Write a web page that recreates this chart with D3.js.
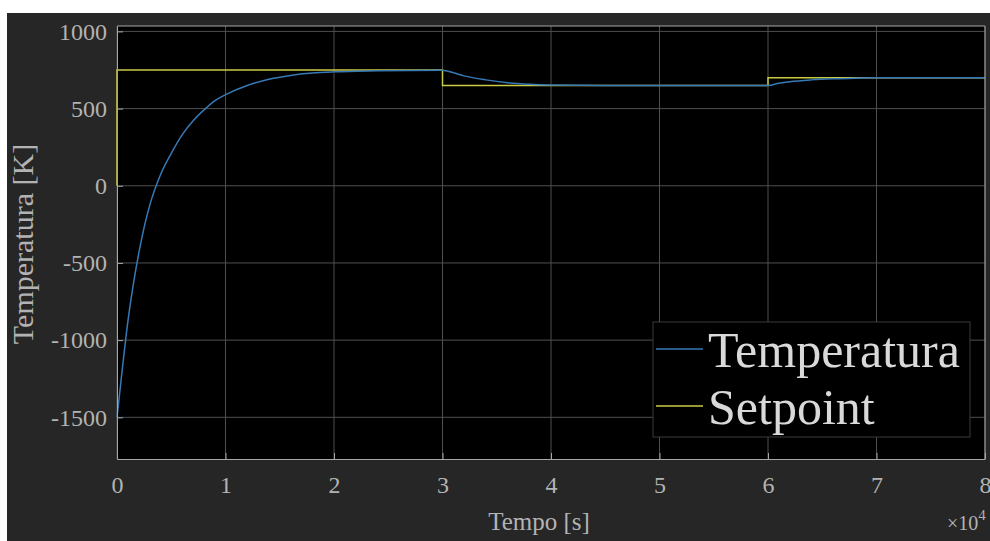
<!DOCTYPE html>
<html>
<head>
<meta charset="utf-8">
<script src="https://cdn.jsdelivr.net/npm/d3@7"></script>
<style>
  body { margin: 0; background: #fff; }
  svg { display: block; }
  text { font-family: "Liberation Serif", "Times New Roman", Times, "DejaVu Serif", serif; }
</style>
</head>
<body>
<svg id="chart" width="990" height="541"></svg>
<script>
// time in seconds, temperature in K
var tempoTemp = [0, 500, 1000, 1500, 2000, 2500, 3000, 4000, 5000, 6000, 7000, 8000, 9000, 10000,
  12000, 14000, 16000, 18000, 20000, 24000, 30000, 31000, 32000, 34000, 36000, 38000, 40000, 45000,
  60000, 61000, 62000, 64000, 66000, 68000, 70000, 80000];
var temperatura = [-1500, -1180, -880, -640, -440, -270, -130, 70, 210, 330, 420, 490, 550, 590,
  650, 690, 715, 730, 738, 745, 749, 732, 712, 686, 668, 658, 653, 650,
  650, 664, 674, 686, 693, 697, 699, 700];
var tempoSet = [0, 0, 30000, 30000, 60000, 60000, 80000];
var setpoint = [0, 750, 750, 650, 650, 700, 700];
var xTicks = [0, 10000, 20000, 30000, 40000, 50000, 60000, 70000, 80000];
var yTicks = [-1500, -1000, -500, 0, 500, 1000];
var legendNames = ["Temperatura", "Setpoint"];
var colors = ["#3679b6", "#cacb45"];

var svg = d3.select("svg#chart"),
    margin = {top: 26, right: 5, bottom: 82, left: 117},
    width = +svg.attr("width") - margin.left - margin.right,
    height = +svg.attr("height") - margin.top - margin.bottom;

// figure background (white strip left/top like the screenshot)
svg.append("rect").attr("x", 7).attr("y", 13).attr("width", 990).attr("height", 541).attr("fill", "#262626");

var g = svg.append("g").attr("transform", "translate(" + margin.left + "," + margin.top + ")");

var x = d3.scaleLinear().domain([0, 80000]).range([0, width]);
var y = d3.scaleLinear().domain([-1770, 1035]).range([height, 0]);

g.append("rect").attr("width", width).attr("height", height).attr("fill", "#000");

// grid
g.append("g").selectAll("line").data(xTicks).enter().append("line")
    .attr("x1", function(d) { return x(d); }).attr("x2", function(d) { return x(d); })
    .attr("y1", 0).attr("y2", height)
    .attr("stroke", "#4f4f4f").attr("stroke-width", 1);
g.append("g").selectAll("line").data(yTicks).enter().append("line")
    .attr("x1", 0).attr("x2", width)
    .attr("y1", function(d) { return y(d); }).attr("y2", function(d) { return y(d); })
    .attr("stroke", "#4f4f4f").attr("stroke-width", 1);

var line = d3.line()
    .x(function(d) { return x(d[0]); })
    .y(function(d) { return y(d[1]); });

g.append("path")
    .datum(d3.zip(tempoSet, setpoint))
    .attr("d", line).attr("fill", "none")
    .attr("stroke", colors[1]).attr("stroke-width", 1.5);

g.append("path")
    .datum(d3.zip(tempoTemp, temperatura))
    .attr("d", line.curve(d3.curveMonotoneX)).attr("fill", "none")
    .attr("stroke", colors[0]).attr("stroke-width", 1.5);

// axes (inward ticks)
var xAxis = g.append("g")
    .attr("transform", "translate(0," + height + ")")
    .call(d3.axisBottom(x).tickValues(xTicks).tickSizeInner(-6).tickSizeOuter(0).tickPadding(17)
      .tickFormat(function(d) { return d / 10000; }));
var yAxis = g.append("g")
    .call(d3.axisLeft(y).tickValues(yTicks).tickSizeInner(-6).tickSizeOuter(0).tickPadding(10)
      .tickFormat(function(d) { return d < 0 ? "-" + Math.abs(d) : d; }));

[xAxis, yAxis].forEach(function(a) {
  a.attr("font-family", null).attr("font-size", null);
  a.select(".domain").attr("stroke", "#a6a6a6");
  a.selectAll(".tick line").attr("stroke", "#a6a6a6");
  a.selectAll(".tick text").attr("fill", "#b3b3b3")
    .attr("font-size", "24px");
});

// top and right frame
g.append("line").attr("x1", 0).attr("x2", width).attr("y1", 0).attr("y2", 0).attr("stroke", "#a6a6a6");
g.append("line").attr("x1", width).attr("x2", width).attr("y1", 0).attr("y2", height).attr("stroke", "#a6a6a6");

// labels
svg.append("text")
    .attr("x", 539).attr("y", 530)
    .attr("text-anchor", "middle").attr("fill", "#b3b3b3")
    .attr("font-size", "25px")
    .text("Tempo [s]");

svg.append("text")
    .attr("transform", "translate(33,244) rotate(-90)")
    .attr("text-anchor", "middle").attr("fill", "#b3b3b3")
    .attr("font-size", "30px")
    .text("Temperatura [K]");

var exp = svg.append("text")
    .attr("x", 947).attr("y", 530).attr("fill", "#b3b3b3")
    .attr("font-size", "20px");
exp.append("tspan").text("\u00d710");
exp.append("tspan").attr("dy", -10).attr("font-size", "15px").text("4");

// legend
var legend = svg.append("g").attr("transform", "translate(653,322)");
legend.append("rect").attr("width", 317).attr("height", 115)
    .attr("fill", "#000").attr("stroke", "#3a3a3a");
var item = legend.selectAll(".item").data(legendNames).enter().append("g")
    .attr("class", "item")
    .attr("transform", function(d, i) { return "translate(0," + (27 + i * 57) + ")"; });
item.append("line").attr("x1", 3).attr("x2", 50)
    .attr("stroke", function(d, i) { return colors[i]; }).attr("stroke-width", 1.5);
item.append("text").attr("x", 55).attr("y", 18)
    .attr("fill", "#d9d9d9")
    .attr("font-size", "50px")
    .text(function(d) { return d; });
</script>
</body>
</html>
